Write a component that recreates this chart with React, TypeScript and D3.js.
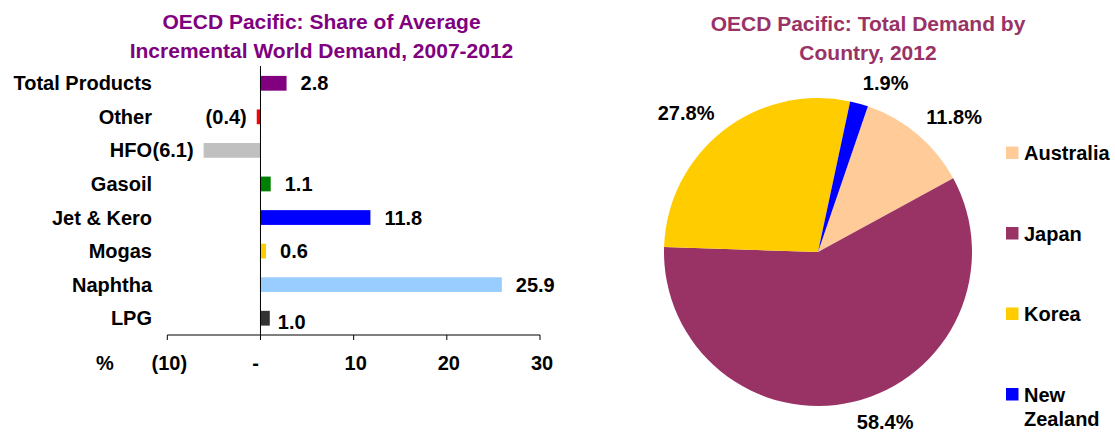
import React from "react";
import * as d3 from "d3";

const categories = ["Total Products", "Other", "HFO", "Gasoil", "Jet & Kero", "Mogas", "Naphtha", "LPG"];
const shareValues = [2.8, -0.4, -6.1, 1.1, 11.8, 0.6, 25.9, 1.0];
const barColors = ["#800080", "#FF0000", "#C0C0C0", "#008000", "#0000FF", "#FFCC00", "#99CCFF", "#333333"];
const xTicks = [-10, 0, 10, 20, 30];

const countries = ["Australia", "Japan", "Korea", "New Zealand"];
const countryShares = [11.8, 58.4, 27.8, 1.9];
const countryColors = ["#FFCC99", "#993366", "#FFCC00", "#0000FF"];

const FONT = "'Liberation Sans', Arial, Helvetica, sans-serif";

function fmtNum(v: number) {
  return v < 0 ? `(${Math.abs(v).toFixed(1)})` : v.toFixed(1);
}
function fmtTick(v: number) {
  if (v === 0) return "-";
  return v < 0 ? `(${Math.abs(v)})` : `${v}`;
}

export default function App() {
  const W = 1115, H = 436;

  // Bar chart
  const x = d3.scaleLinear().domain([-10, 30]).range([167.3, 540]);
  const y = d3.scaleBand<string>().domain(categories).range([66.5, 335]).paddingInner(0.56).paddingOuter(0.28);
  const axisY = 335;

  // Pie chart
  const cx = 818, cy = 252, r = 154;
  const startA = (18.9 * Math.PI) / 180;
  const pie = d3.pie<number>().sort(null).startAngle(startA).endAngle(startA + 2 * Math.PI);
  const arcs = pie(countryShares);
  const arcGen = d3.arc<d3.PieArcDatum<number>>().innerRadius(0).outerRadius(r);

  const labelFs = 20;
  const titleFs = 21;

  return (
    <svg width={W} height={H} style={{ position: "absolute", left: 0, top: 0, background: "#fff" }} fontFamily={FONT}>
      <rect width={W} height={H} fill="#fff" />
      {/* Bar chart title */}
      <g fontWeight="bold" fontSize={titleFs} fill="#800080" textAnchor="middle">
        <text x={321.5} y={21.7} dominantBaseline="central">OECD Pacific: Share of Average</text>
        <text x={321.5} y={50} dominantBaseline="central">Incremental World Demand, 2007-2012</text>
      </g>
      {/* Bars */}
      {categories.map((c, i) => {
        const v = shareValues[i];
        const x0 = x(Math.min(0, v));
        const x1 = x(Math.max(0, v));
        return <rect key={c} x={x0} y={y(c)!} width={x1 - x0} height={y.bandwidth()} fill={barColors[i]} />;
      })}
      {/* zero line */}
      <line x1={x(0)} x2={x(0)} y1={66} y2={axisY} stroke="#000" strokeWidth={1} />
      {/* category labels */}
      <g fontWeight="bold" fontSize={labelFs} fill="#000" textAnchor="end">
        {categories.map((c) => (
          <text key={c} x={152} y={y(c)! + y.bandwidth() / 2} dominantBaseline="central">{c}</text>
        ))}
      </g>
      {/* value labels */}
      <g fontWeight="bold" fontSize={labelFs} fill="#000">
        {categories.map((c, i) => {
          const v = shareValues[i];
          const neg = v < 0;
          const last = i === categories.length - 1;
          return (
            <text key={c} x={neg ? x(v) - 10 : x(v) + (last ? 8 : 14)} y={y(c)! + y.bandwidth() / 2 + (last ? 3.5 : 0)} dominantBaseline="central" textAnchor={neg ? "end" : "start"}>
              {fmtNum(v)}
            </text>
          );
        })}
      </g>
      {/* x axis */}
      <line x1={x(-10)} x2={x(30)} y1={axisY} y2={axisY} stroke="#000" strokeWidth={1} />
      {xTicks.map((t) => (
        <line key={t} x1={x(t)} x2={x(t)} y1={axisY} y2={axisY + 5} stroke="#000" strokeWidth={1} />
      ))}
      <g fontWeight="bold" fontSize={labelFs} fill="#000" textAnchor="middle">
        {xTicks.map((t) => (
          <text key={t} x={x(t) + (t === 0 ? -5 : 2)} y={363} dominantBaseline="central">{fmtTick(t)}</text>
        ))}
        <text x={105} y={363} dominantBaseline="central">%</text>
      </g>

      {/* Pie title */}
      <g fontWeight="bold" fontSize={titleFs} fill="#993366" textAnchor="middle">
        <text x={868} y={23} dominantBaseline="central">OECD Pacific: Total Demand by</text>
        <text x={868} y={52} dominantBaseline="central">Country, 2012</text>
      </g>
      {/* Pie */}
      <g transform={`translate(${cx},${cy})`}>
        {arcs.map((a, i) => (
          <path key={countries[i]} d={arcGen(a)!} fill={countryColors[i]} />
        ))}
      </g>
      {/* Pie labels */}
      <g fontWeight="bold" fontSize={labelFs} fill="#000">
        {arcs.map((a, i) => {
          const mid = (a.startAngle + a.endAngle) / 2;
          const s = Math.sin(mid), co = Math.cos(mid);
          const px = cx + 168 * s;
          const py = cy - 168 * co;
          const baseline = co > 0 ? py : py + 14;
          return (
            <text key={countries[i]} x={px} y={baseline} textAnchor={s >= 0 ? "start" : "end"}>
              {countryShares[i].toFixed(1)}%
            </text>
          );
        })}
      </g>
      {/* Legend */}
      <g fontWeight="bold" fontSize={labelFs} fill="#000">
        {countries.map((c, i) => {
          const ly = 153 + i * 80.5;
          const words = c === "New Zealand" ? ["New", "Zealand"] : [c];
          return (
            <g key={c}>
              <rect x={1006} y={ly - 6.5} width={12.5} height={12.5} fill={countryColors[i]} />
              {words.map((w, j) => (
                <text key={w} x={1024} y={ly + j * 24} dominantBaseline="central">{w}</text>
              ))}
            </g>
          );
        })}
      </g>
    </svg>
  );
}
